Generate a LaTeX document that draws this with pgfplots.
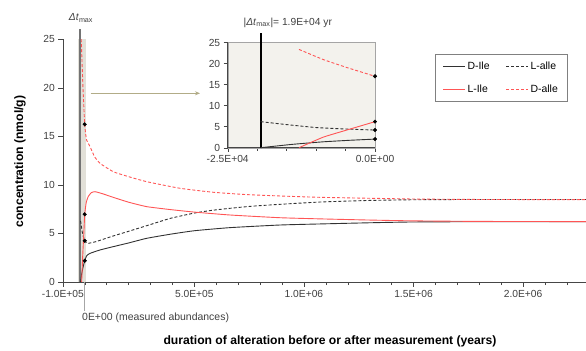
\documentclass[border=0pt]{standalone}
\usepackage{fontspec}
\setmainfont{Liberation Sans}
\usepackage{pgfplots}
\pgfplotsset{compat=1.18}
\usetikzlibrary{arrows.meta}
\definecolor{axgray}{RGB}{70,70,70}
\definecolor{ticktxt}{RGB}{64,64,64}
\definecolor{redc}{RGB}{255,85,85}
\definecolor{blk}{RGB}{50,50,50}
\definecolor{bandc}{RGB}{226,224,216}
\definecolor{bandline}{RGB}{115,115,115}
\definecolor{insetbg}{RGB}{243,242,237}
\definecolor{arrowc}{RGB}{178,172,135}
\definecolor{legbox}{RGB}{128,128,128}
\definecolor{framegray}{RGB}{165,165,165}

\begin{document}
\begin{tikzpicture}[x=1bp,y=1bp]
\useasboundingbox (0,0) rectangle (586,350);
\begin{axis}[
  at={(62.8bp,68bp)}, anchor=south west,
  scale only axis, width=523.9bp, height=242.75bp,
  xmin=-100000, xmax=2290000, ymin=0, ymax=25,
  clip=false,
  axis x line*=bottom, axis y line*=left,
  axis line style={axgray,-},
  every tick/.style={axgray},
  tick align=outside,
  major tick length=4.5bp, minor tick length=3bp,
  scaled x ticks=false, scaled y ticks=false,
  xtick={-100000,500000,1000000,1500000,2000000},
  xticklabels={-1.0E+05,5.0E+05,1.0E+06,1.5E+06,2.0E+06},
  minor xtick={0,100000,200000,300000,400000,600000,700000,800000,900000,1100000,1200000,1300000,1400000,1600000,1700000,1800000,1900000,2100000,2200000},
  ytick={0,5,10,15,20,25},
  yticklabels={0,5,10,15,20,25},
  ticklabel style={font=\fontsize{10.3}{12}\selectfont, text=ticktxt},
  legend columns=2,
  legend cell align=left,
  legend image code/.code={\draw[#1] (0bp,0bp) -- (22bp,0bp);},
  legend style={at={(0.9624,0.939)}, anchor=north east, draw=legbox, fill=white,
    font=\fontsize{10.5}{12}\selectfont, inner xsep=7bp, inner ysep=5.5bp,
    row sep=10bp, /tikz/every even column/.append style={column sep=14bp}},
]
% shaded band and Delta t_max line
\fill[bandc] (axis cs:-29000,0) rectangle (axis cs:4000,25);
\draw[bandline, line width=2bp] (axis cs:-21000,0) -- (axis cs:-21000,26.05);
\draw[gray!70, line width=0.6bp] (axis cs:0,0) -- (axis cs:0,-3.0);

\addplot[blk, line width=0.9bp, smooth, tension=0.3] coordinates {
(-19000,0) (-14000,0.8) (-8800,1.4) (0,2.19) (9000,2.71) (24200,2.95) (70000,3.3)
(130000,3.64) (200000,4.02) (283000,4.5) (390000,4.92) (500000,5.28) (663000,5.6) (891000,5.87) (1076000,5.98)
(1300000,6.1) (1490000,6.18) (1800000,6.21) (2290000,6.22)};
\addlegendentry{D-Ile}
\addplot[blk, line width=0.9bp, dash pattern=on 3bp off 2bp, smooth, tension=0.3] coordinates {
(-19000,6.3) (-10000,5.0) (0,4.25) (8000,4.05) (16000,3.98) (50000,4.15) (130000,4.74)
(200000,5.22) (283000,5.8) (390000,6.55) (500000,7.1) (580000,7.38) (663000,7.59) (760000,7.8) (891000,8.0) (1076000,8.24) (1300000,8.4)
(1500000,8.47) (1800000,8.5) (2290000,8.5)};
\addlegendentry{L-alle}
\addplot[redc, line width=0.9bp, smooth, tension=0.3] coordinates {
(-14000,0) (-9000,2.8) (-4500,4.8) (0,6.97) (7000,8.2) (16000,8.8) (30000,9.2) (47000,9.3)
(80000,9.1) (130000,8.72) (200000,8.22) (283000,7.76) (390000,7.46) (500000,7.2) (663000,6.9) (891000,6.62)
(1076000,6.5) (1300000,6.38) (1490000,6.3) (1800000,6.24) (2290000,6.22)};
\addlegendentry{L-Ile}
\addplot[redc, line width=0.9bp, dash pattern=on 3bp off 2bp, smooth, tension=0.3] coordinates {
(-16000,25) (-12000,22.5) (-8000,20.0) (-4000,18.0) (0,16.24) (4000,15.3) (9000,14.6)
(24200,13.94) (45000,12.9) (70000,12.22) (130000,11.36) (200000,10.85) (283000,10.33) (435000,9.65) (587000,9.24)
(740000,9.0) (891000,8.86) (1076000,8.72) (1490000,8.55) (1800000,8.5) (2290000,8.48)};
\addlegendentry{D-alle}
\addplot[only marks, mark=*, mark size=1.8bp, black, forget plot] coordinates {
(0,16.24) (0,6.97) (0,4.25) (0,2.19)};
\end{axis}

% inset
\begin{axis}[
  at={(227.7bp,202.3bp)}, anchor=south west,
  scale only axis, width=147.3bp, height=105bp,
  xmin=-25000, xmax=0, ymin=0, ymax=25,
  clip=false,
  axis background/.style={fill=insetbg},
  axis line style={framegray},
  every tick/.style={axgray},
  tick align=outside,
  xtick pos=bottom, ytick pos=left,
  major tick length=4bp, minor tick length=3bp,
  scaled x ticks=false,
  xtick={-25000,0}, xticklabels={-2.5E+04,0.0E+00},
  minor xtick={-20000,-15000,-10000,-5000},
  ytick={0,5,10,15,20,25}, yticklabels={0,5,10,15,20,25},
  ticklabel style={font=\fontsize{10.3}{12}\selectfont, text=ticktxt},
]
\draw[axgray, line width=0.6bp] (rel axis cs:0,1) -- (rel axis cs:0,0) -- (rel axis cs:1,0);
\draw[black, line width=2bp] (axis cs:-19400,0) -- (axis cs:-19400,27.3);
\addplot[blk, line width=0.9bp, smooth, tension=0.3] coordinates {
(-19400,0) (-14000,0.8) (-8800,1.4) (-4500,1.75) (0,2.05)};
\addplot[blk, line width=0.9bp, dash pattern=on 3bp off 2bp, smooth, tension=0.3] coordinates {
(-19400,6.2) (-15000,5.5) (-10000,4.8) (-5000,4.45) (0,4.2)};
\addplot[redc, line width=0.9bp, smooth, tension=0.3] coordinates {
(-12900,0) (-8800,2.5) (-4800,4.2) (0,6.2)};
\addplot[redc, line width=0.9bp, dash pattern=on 3bp off 2bp, smooth, tension=0.3] coordinates {
(-12900,23.4) (-8800,21.0) (-4800,19.1) (0,17.0)};
\addplot[only marks, mark=*, mark size=1.8bp, black] coordinates {
(0,17.0) (0,6.2) (0,4.2) (0,2.05)};
\end{axis}

% annotations
\draw[arrowc, line width=1.2bp, -{Stealth[length=5bp,width=4bp]}] (90.7,256.7) -- (200,256.7);
\node[font=\fontsize{10.3}{12}\selectfont, text=ticktxt] at (81,332) {\textit{Δt}\textsubscript{max}};
\node[font=\fontsize{10.3}{12}\selectfont, text=ticktxt] at (287.8,327.3) {|\textit{Δt}\textsubscript{max}|= 1.9E+04 yr};
\node[font=\fontsize{10.5}{12}\selectfont, text=ticktxt, anchor=west, inner sep=0pt] at (82,32) {0E+00 (measured abundances)};
\node[font=\bfseries\fontsize{12.2}{14}\selectfont, rotate=90] at (20,188.5) {concentration (nmol/g)};
\node[font=\bfseries\fontsize{12.2}{14}\selectfont] at (330,9) {duration of alteration before or after measurement (years)};
\end{tikzpicture}
\end{document}
